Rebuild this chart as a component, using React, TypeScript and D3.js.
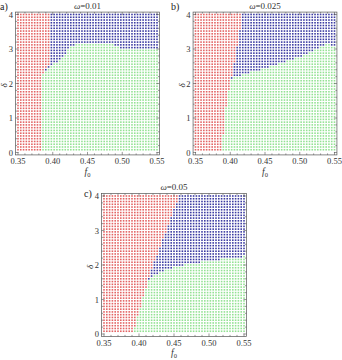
import { useRef, useEffect } from 'react';
import * as d3 from 'd3';

// grid of simulated (f0, delta) pairs
const f0Values = d3.range(0, 51).map(i => +(0.35 + i * 0.004).toFixed(3));
const deltaValues = d3.range(1, 51).map(i => +(i * 0.08).toFixed(2));

const xTicks = [0.35, 0.40, 0.45, 0.50, 0.55];
const yTicks = [0, 1, 2, 3, 4];

// panel a: omega = 0.01
const redDeltaA = [0, 2.2, 2.45, 2.7, 4.0];
const redF0A = [0.385, 0.385, 0.391, 0.398, 0.398];
const greenF0A = [0.385, 0.41, 0.427, 0.435, 0.49, 0.495, 0.55];
const greenDeltaA = [2.3, 2.7, 3.07, 3.18, 3.12, 3.03, 3.03];

// panel b: omega = 0.025
const redDeltaB = [0, 0.8, 1.6, 2.4, 3.2, 4.0];
const redF0B = [0.388, 0.391, 0.396, 0.404, 0.411, 0.418];
const greenF0B = [0.39, 0.41, 0.46, 0.51, 0.53, 0.54, 0.55];
const greenDeltaB = [2.1, 2.2, 2.5, 2.85, 3.05, 3.15, 3.1];

// panel c: omega = 0.05
const redDeltaC = [0, 1, 2, 3, 4];
const redF0C = [0.391, 0.405, 0.42, 0.439, 0.457];
const greenF0C = [0.41, 0.43, 0.45, 0.48, 0.51, 0.55];
const greenDeltaC = [1.5, 1.8, 1.95, 2.05, 2.15, 2.25];

const panels = [
  { tag: 'a)', omega: '0.01', tagX: 0, tagY: 10, x0: 18, x1: 157, yTop: 14.5, yBot: 152.5,
    redDelta: redDeltaA, redF0: redF0A, greenF0: greenF0A, greenDelta: greenDeltaA },
  { tag: 'b)', omega: '0.025', tagX: 171, tagY: 10, x0: 195.5, x1: 334.5, yTop: 14.5, yBot: 152.5,
    redDelta: redDeltaB, redF0: redF0B, greenF0: greenF0B, greenDelta: greenDeltaB },
  { tag: 'c)', omega: '0.05', tagX: 84, tagY: 197, x0: 104, x1: 244, yTop: 196, yBot: 334,
    redDelta: redDeltaC, redF0: redF0C, greenF0: greenF0C, greenDelta: greenDeltaC },
];

const RED = '#e36464';
const BLUE = '#3c3ca2';
const GREEN = '#94e294';
const FONT = '"Liberation Serif", "DejaVu Serif", serif';

export default function App() {
  const svgRef = useRef<SVGSVGElement>(null);

  useEffect(() => {
    const svg = d3.select(svgRef.current);
    svg.selectAll('*').remove();

    panels.forEach(p => {
      const x = d3.scaleLinear().domain([0.35, 0.55]).range([p.x0, p.x1]);
      const y = d3.scaleLinear().domain([0, 4]).range([p.yBot, p.yTop]);
      const redEdge = d3.scaleLinear().domain(p.redDelta).range(p.redF0).clamp(true);
      const greenEdge = d3.scaleLinear().domain(p.greenF0).range(p.greenDelta).clamp(true);

      const g = svg.append('g');
      const fl = x(0.3465), fr = x(0.5535), ft = y(4.07), fb = y(-0.07);

      const cells: { f: number; d: number; c: string }[] = [];
      f0Values.forEach(f => deltaValues.forEach(d => {
        let c = BLUE;
        if (f < redEdge(d)) c = RED;
        else if (d < greenEdge(f)) c = GREEN;
        cells.push({ f, d, c });
      }));

      const s = 1.6;
      g.selectAll('rect.cell').data(cells).enter().append('rect')
        .attr('x', d => x(d.f) - s / 2)
        .attr('y', d => y(d.d) - s / 2)
        .attr('width', s).attr('height', s)
        .attr('fill', d => d.c);

      // frame
      g.append('rect')
        .attr('x', fl).attr('y', ft).attr('width', fr - fl).attr('height', fb - ft)
        .attr('fill', 'none').attr('stroke', '#555').attr('stroke-width', 0.7);

      const ticks = g.append('g').attr('stroke', '#555').attr('stroke-width', 0.6);
      d3.range(0.35, 0.5501, 0.01).forEach((v, i) => {
        const len = i % 5 === 0 ? 3 : 1.5;
        ticks.append('line').attr('x1', x(v)).attr('x2', x(v)).attr('y1', fb).attr('y2', fb - len);
        ticks.append('line').attr('x1', x(v)).attr('x2', x(v)).attr('y1', ft).attr('y2', ft + len);
      });
      d3.range(0, 4.001, 0.2).forEach((v, i) => {
        const len = i % 5 === 0 ? 3 : 1.5;
        ticks.append('line').attr('y1', y(v)).attr('y2', y(v)).attr('x1', fl).attr('x2', fl + len);
        ticks.append('line').attr('y1', y(v)).attr('y2', y(v)).attr('x1', fr).attr('x2', fr - len);
      });

      const txt = g.append('g').attr('font-family', FONT).attr('fill', '#333');
      xTicks.forEach(v => {
        txt.append('text').attr('x', x(v)).attr('y', fb + 9.5)
          .attr('text-anchor', 'middle').attr('font-size', 8.5).text(v.toFixed(2));
      });
      yTicks.forEach(v => {
        txt.append('text').attr('x', fl - 2.5).attr('y', y(v) + 3)
          .attr('text-anchor', 'end').attr('font-size', 8.5).text(String(v));
      });

      const title = txt.append('text').attr('x', (fl + fr) / 2).attr('y', ft - 3.5)
        .attr('text-anchor', 'middle').attr('font-size', 9);
      title.append('tspan').attr('font-style', 'italic').text('ω');
      title.append('tspan').text('=' + p.omega);

      const xl = txt.append('text').attr('x', (fl + fr) / 2).attr('y', fb + 20)
        .attr('text-anchor', 'middle').attr('font-size', 9.5);
      xl.append('tspan').attr('font-style', 'italic').text('f');
      xl.append('tspan').attr('font-size', 6.5).attr('dy', 2).text('0');

      txt.append('text')
        .attr('transform', `translate(${fl - 8.5},${y(2) + 2}) rotate(-90)`)
        .attr('text-anchor', 'middle').attr('font-size', 9).attr('font-style', 'italic')
        .text('δ');

      txt.append('text').attr('x', p.tagX).attr('y', p.tagY)
        .attr('font-size', 10).attr('fill', '#222').text(p.tag);
    });
  }, []);

  return (
    <div style={{ position: 'absolute', left: 0, top: 0 }}>
      <svg ref={svgRef} width={342} height={360} style={{ display: 'block', background: '#fff' }} />
    </div>
  );
}
